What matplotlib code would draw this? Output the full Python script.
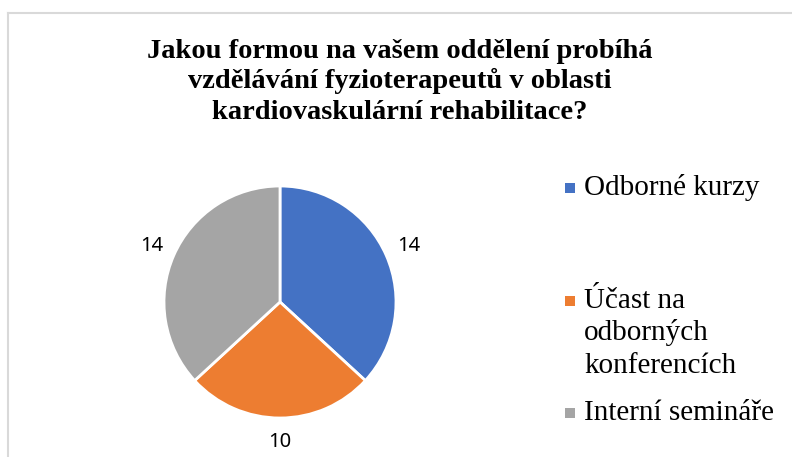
import matplotlib.pyplot as plt
from matplotlib.patches import Rectangle
from matplotlib.lines import Line2D

title = "Jakou formou na vašem oddělení probíhá\nvzdělávání fyzioterapeutů v oblasti\nkardiovaskulární rehabilitace?"
labels = ["Odborné kurzy", "Účast na\nodborných\nkonferencích", "Interní semináře"]
values = [14, 10, 14]
colors = ["#4472C4", "#ED7D31", "#A5A5A5"]

W, H = 792, 457
fig = plt.figure(figsize=(W / 100, H / 100), dpi=100)

# frame of the chart area (only top and left edges are visible)
fig.add_artist(Line2D([8 / W, 1], [1 - 13 / H, 1 - 13 / H], color="#D9D9D9", lw=1.5))
fig.add_artist(Line2D([8 / W, 8 / W], [0, 1 - 13 / H], color="#D9D9D9", lw=1.5))

# title, one line at a time (baselines in px)
for i, line in enumerate(title.split("\n")):
    fig.text(400 / W, 1 - (58 + 30.5 * i) / H, line, ha="center", va="baseline",
             fontsize=20.5, fontweight="bold", family="Liberation Serif")

# pie
cx, cy, r = 280, 302, 116
ax = fig.add_axes([(cx - r) / W, (H - cy - r) / H, 2 * r / W, 2 * r / H])
wedges, texts = ax.pie(values, colors=colors, startangle=90, counterclock=False,
                       labels=[str(v) for v in values], labeldistance=1.21,
                       wedgeprops=dict(edgecolor="white", linewidth=2),
                       textprops=dict(fontsize=14.5, family="Noto Sans", color="black"))
for t in texts:
    t.set_ha("center")
    t.set_va("center")
ax.set_xlim(-1, 1)
ax.set_ylim(-1, 1)

# legend drawn by hand to keep Office-like spacing (baselines of first lines)
leg_base = [195, 308, 420]
for lab, col, yb in zip(labels, colors, leg_base):
    fig.add_artist(Rectangle((565 / W, 1 - (yb - 2) / H), 10 / W, 10 / H,
                             facecolor=col, edgecolor="none", transform=fig.transFigure))
    for i, line in enumerate(lab.split("\n")):
        fig.text(584 / W, 1 - (yb + 32.5 * i) / H, line, ha="left", va="baseline",
                 fontsize=21, family="Liberation Serif")

fig.savefig("out.png", dpi=100)
